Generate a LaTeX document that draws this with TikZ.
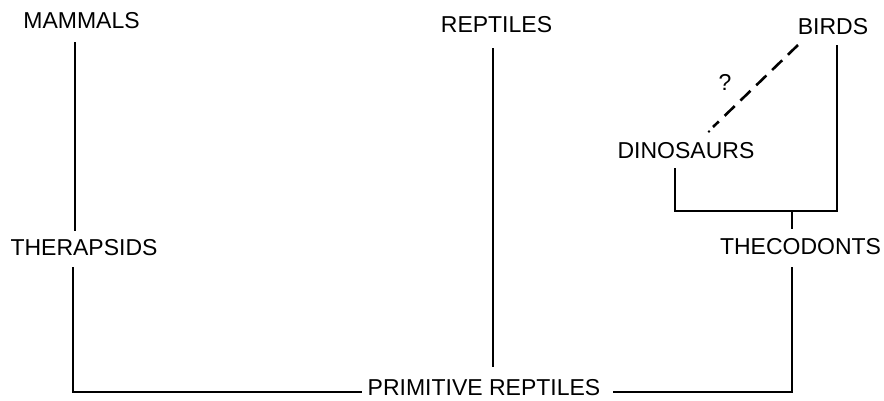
\documentclass[tikz,border=0pt]{standalone}
\usepackage{fontspec}
\setmainfont{Liberation Sans}
\begin{document}
\begin{tikzpicture}[x=1pt,y=-1pt,
  lbl/.style={inner sep=0pt, font=\fontsize{23}{26}\selectfont},
  ln/.style={line width=2.6pt},
  dsh/.style={line width=2.6pt, dash pattern=on 14pt off 8pt}]
\useasboundingbox (0,0) rectangle (884,400);
% labels
\node[lbl] (mam) at (81.5,20.5) {MAMMALS};
\node[lbl] (rep) at (496.5,25) {REPTILES};
\node[lbl] (bird) at (833,26.5) {BIRDS};
\node[lbl] (q) at (725,82) {?};
\node[lbl] (dino) at (686,150.5) {DINOSAURS};
\node[lbl] (ther) at (84,248) {THERAPSIDS};
\node[lbl] (thec) at (800.5,246.5) {THECODONTS};
\node[lbl] (prim) at (484,388) {PRIMITIVE REPTILES};
% connector end points
\coordinate (m1) at (75,42);
\coordinate (m2) at (75,231);
\coordinate (t1) at (73,267);
\coordinate (t2) at (73,392);
\coordinate (p1) at (362,392);
\coordinate (p2) at (613,392);
\coordinate (c2) at (792,392);
\coordinate (c1) at (792,267);
\coordinate (r1) at (493,48);
\coordinate (r2) at (493,367);
\coordinate (b1) at (837,45);
\coordinate (b2) at (837,211);
\coordinate (d2) at (675,211);
\coordinate (d1) at (675,168);
\coordinate (j1) at (792,211);
\coordinate (j2) at (792,229);
\coordinate (q1) at (798,45);
\coordinate (q2) at (713,127);
\coordinate (q3) at (709,131.5);
% connectors
\draw[ln] (m1) -- (m2);
\draw[ln] (t1) -- (t2) -- (p1);
\draw[ln] (p2) -- (c2) -- (c1);
\draw[ln] (r1) -- (r2);
\draw[ln] (b1) -- (b2) -- (d2) -- (d1);
\draw[ln] (j1) -- (j2);
\draw[dsh] (q1) -- (q2);
\fill (q3) circle (1.4pt);
\end{tikzpicture}
\end{document}
